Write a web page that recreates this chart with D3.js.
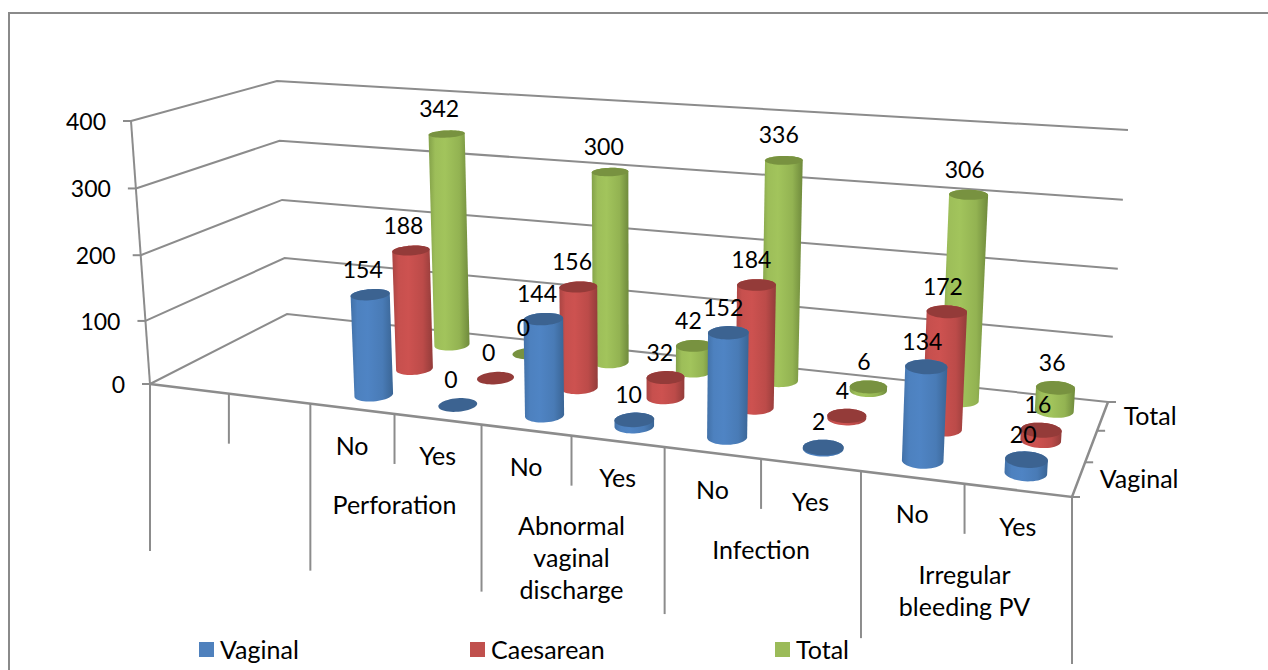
<!DOCTYPE html>
<html><head><meta charset="utf-8">
<script src="https://cdnjs.cloudflare.com/ajax/libs/d3/7.8.5/d3.min.js"></script>
<style>html,body{margin:0;padding:0;background:#fff;overflow:hidden}svg{display:block}text{font-family:Lato,"Open Sans",sans-serif;fill:#000}</style>
</head><body><svg id="c" width="1268" height="670"></svg>
<script>
// ---------- data ----------
const conditions = ["", "Perforation", "Abnormal vaginal discharge", "Infection", "Irregular bleeding PV"];
const answers = ["No", "Yes"];
const seriesNames = ["Vaginal", "Caesarean", "Total"];
const vaginal   = [null, null, 154, 0, 144, 10, 152, 2, 134, 20];
const caesarean = [null, null, 188, 0, 156, 32, 184, 4, 172, 16];
const total     = [null, null, 342, 0, 300, 42, 336, 6, 306, 36];
const yTicks = [0, 100, 200, 300, 400];
const sideLabels = ["Vaginal", "", "Total"];
// ---------- styles ----------
const palette = {
  Vaginal:   {edge:"#3a6595", mid:"#4f84c4", top:"#3c6391", legend:"#4F81BD"},
  Caesarean: {edge:"#933c3a", mid:"#cd5250", top:"#943b39", legend:"#C0504D"},
  Total:     {edge:"#6f8a3c", mid:"#a2c45c", top:"#789240", legend:"#9BBB59"}
};
const gridColor = "#8c8c8c";
const digitSize = 23, wordSize = 25;

const svg = d3.select("#c");
const layers = {};
["frame","grid","bars","axes","labels"].forEach(k => layers[k] = svg.append("g"));

// ---------- projection: floor and ceiling planes of the 3D box ----------
const floorCorners = {fl:[150,384], fr:[1072,497], br:[1108,402], bl:[287,314]};
const ceilCorners  = {fl:[131,121], fr:[1094,200], br:[1128,130], bl:[277,81]};
function homography(c){ // unit square (u,v) -> quadrilateral
  const [x0,y0]=c.fl,[x1,y1]=c.fr,[x2,y2]=c.br,[x3,y3]=c.bl;
  const dx1=x1-x2,dx2=x3-x2,sx=x0-x1+x2-x3,dy1=y1-y2,dy2=y3-y2,sy=y0-y1+y2-y3;
  const den=dx1*dy2-dx2*dy1;
  const g=(sx*dy2-dx2*sy)/den,h=(dx1*sy-sx*dy1)/den;
  const a=x1-x0+g*x1,b=x3-x0+h*x3,d=y1-y0+g*y1,e=y3-y0+h*y3;
  return (u,v)=>{const w=g*u+h*v+1;return [(a*u+b*v+x0)/w,(d*u+e*v+y0)/w];};
}
const floorRaw = homography(floorCorners), ceilH = homography(ceilCorners);
const floorH = (u,v)=>floorRaw(u-0.017*u*(1-u),v);
const zScale = d3.scalePow().exponent(1.03).domain([0,400]).range([0,1]);
// bars converge on their own vanishing point: lean per pixel of height, by floor x
const leanScale = d3.scaleLinear().domain([640,960]).range([0,0.043]);
function wall(u,v,val){
  const f=floorRaw(u,v),c=ceilH(u,v),t=zScale(val);
  return [f[0]+(c[0]-f[0])*t,f[1]+(c[1]-f[1])*t];
}
function project(u,v,val){
  const f=floorH(u,v),c=ceilH(u,v),t=zScale(val);
  const y=f[1]+(c[1]-f[1])*t;
  return [f[0]+leanScale(f[0])*(f[1]-y),y];
}
const uScale = d3.scaleBand().domain(d3.range(vaginal.length)).range([0,1]);
const vScale = d3.scaleBand().domain(seriesNames).range([0,1]);
const line = d3.line();

// ---------- frame ----------
layers.frame.append("rect").attr("x",9).attr("y",13).attr("width",1300).attr("height",700)
  .attr("fill","#fff").attr("stroke","#8a8a8a").attr("stroke-width",2);

// ---------- gridlines ----------
yTicks.forEach(t=>{
  layers.grid.append("path").attr("fill","none").attr("stroke",gridColor).attr("stroke-width",2)
    .attr("d",line([wall(0,0,t),wall(0,1,t),wall(1,1,t)]));
});
// ---------- value axis ----------
layers.axes.append("path").attr("fill","none").attr("stroke",gridColor).attr("stroke-width",2)
  .attr("d",line([wall(0,0,0),wall(0,0,400)]));
yTicks.forEach(t=>{
  const p=wall(0,0,t);
  layers.axes.append("path").attr("stroke",gridColor).attr("stroke-width",2)
    .attr("d",line([[p[0]-8,p[1]],p]));
  layers.labels.append("text").attr("x",p[0]-25).attr("y",p[1]+1).attr("dy","0.35em")
    .attr("text-anchor","end").attr("font-size",digitSize).text(t);
});

// ---------- floor edges ----------
layers.axes.append("path").attr("fill","none").attr("stroke",gridColor).attr("stroke-width",2.5)
  .attr("d",line([wall(0,0,0),wall(1,0,0),wall(1,1,0)]));

// ---------- category axis (two levels) ----------
const nCat = vaginal.length;
d3.range(nCat+1).forEach(i=>{
  const p=floorH(i/nCat,0), long=i%2===0;
  layers.axes.append("path").attr("stroke",gridColor).attr("stroke-width",2)
    .attr("d",line([p,[p[0],p[1]+(long?167:50)]]));
});
d3.range(nCat).forEach(i=>{
  if(vaginal[i]===null) return;
  const p=floorH((i+0.5)/nCat,0);
  layers.labels.append("text").attr("x",p[0]).attr("y",p[1]+37).attr("dy","0.35em")
    .attr("text-anchor","middle").attr("font-size",wordSize).text(answers[i%2]);
});
const wrapped = {"Abnormal vaginal discharge":["Abnormal","vaginal","discharge"],"Irregular bleeding PV":["Irregular","bleeding PV"]};
conditions.forEach((name,k)=>{
  if(!name) return;
  const p=floorH((k*2+1)/nCat,0);
  (wrapped[name]||[name]).forEach((ln,j)=>{
    layers.labels.append("text").attr("x",p[0]).attr("y",p[1]+91+j*32).attr("dy","0.35em")
      .attr("text-anchor","middle").attr("font-size",wordSize).text(ln);
  });
});

// ---------- depth axis ----------
d3.range(seriesNames.length+1).forEach(i=>{
  const p=floorH(1,i/seriesNames.length);
  layers.axes.append("path").attr("stroke",gridColor).attr("stroke-width",2)
    .attr("d",line([p,[p[0]+8,p[1]]]));
});
sideLabels.forEach((s,i)=>{
  if(!s) return;
  const p=floorH(1,vScale(seriesNames[i])+vScale.bandwidth()/2);
  layers.labels.append("text").attr("x",p[0]+21).attr("y",p[1]).attr("dy","0.35em")
    .attr("font-size",wordSize).text(s);
});

// ---------- cylinders ----------
const defs = svg.append("defs");
seriesNames.forEach(s=>{
  const g=defs.append("linearGradient").attr("id","g"+s).attr("x1",0).attr("x2",1).attr("y1",0).attr("y2",0);
  const c=palette[s], mix=d3.interpolateRgb(c.mid,c.edge);
  [[0,mix(0.6)],[0.16,mix(0.1)],[0.4,c.mid],[0.75,mix(0.3)],[1,c.edge]]
    .forEach(([o,col])=>g.append("stop").attr("offset",o).attr("stop-color",col));
});
const RADIUS_U = 0.2, RADIUS_V = 0.235;
const circleAngles = d3.range(0,2*Math.PI,Math.PI/24);
function ring(cu,cv,val){
  const ru=uScale.bandwidth()*RADIUS_U, rv=vScale.bandwidth()*RADIUS_V;
  return circleAngles.map(a=>project(cu+ru*Math.cos(a),cv+rv*Math.sin(a),val));
}
const labelDx = d3.scaleLinear().domain([0,1]).range([-9,-3]);
const seriesValues = {Vaginal:vaginal,Caesarean:caesarean,Total:total};
[...seriesNames].reverse().forEach(s=>{
  const c=palette[s];
  seriesValues[s].forEach((val,i)=>{
    if(val===null) return;
    const cu=uScale(i)+uScale.bandwidth()/2, cv=vScale(s)+vScale.bandwidth()/2;
    const bottom=ring(cu,cv,0), top=ring(cu,cv,val);
    const g=layers.bars.append("g");
    if(val>0){
      g.append("path").attr("fill","url(#g"+s+")")
        .attr("d",line(d3.polygonHull(bottom.concat(top)))+"Z");
    }
    g.append("path").attr("fill",c.top).attr("d",line(top)+"Z");
    const tc=project(cu,cv,val);
    layers.labels.append("text").attr("x",tc[0]+labelDx(cu)).attr("y",tc[1]-25).attr("dy","0.35em")
      .attr("text-anchor","middle").attr("font-size",digitSize).text(val);
  });
});

// ---------- legend ----------
const legendScale = d3.scaleOrdinal().domain(seriesNames).range([199,470,775]);
seriesNames.forEach(s=>{
  const x=legendScale(s);
  layers.labels.append("rect").attr("x",x).attr("y",642).attr("width",15).attr("height",15).attr("fill",palette[s].legend);
  layers.labels.append("text").attr("x",x+21).attr("y",650).attr("dy","0.35em").attr("font-size",wordSize).text(s);
});
</script></body></html>
